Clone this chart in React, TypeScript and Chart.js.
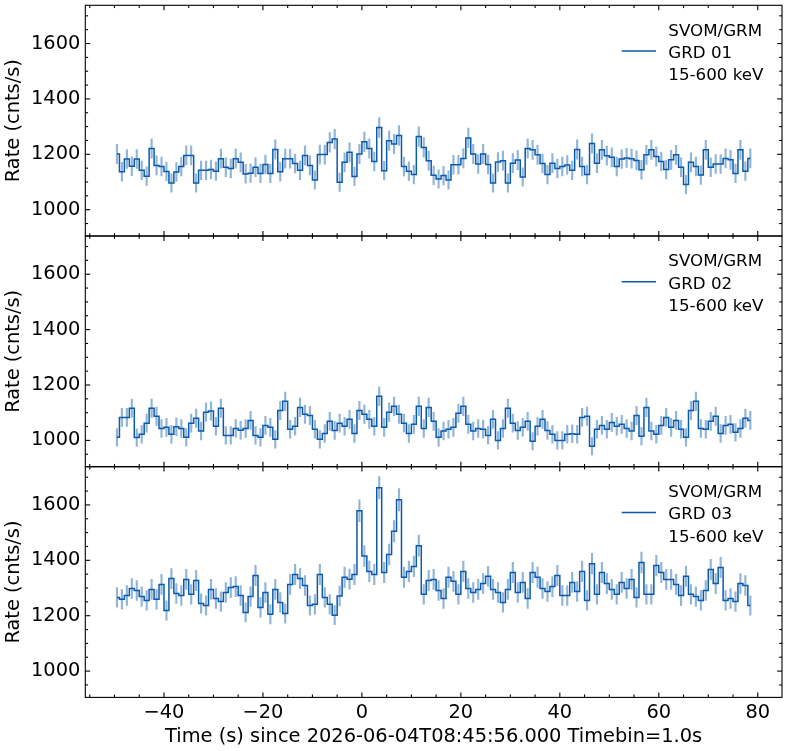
import React, { useEffect, useRef } from 'react';
import { Chart, registerables } from 'chart.js';

Chart.register(...registerables);

// ---------------- data ----------------
const binStart = -49.5; // centre of first 1 s bin (s)
const binWidth = 1.0;

const grd01 = [
  1201, 1137, 1183, 1157, 1183, 1142, 1121, 1221, 1160, 1156, 1138, 1096, 1136, 1156, 1196, 1196, 1096, 1142, 1142, 1145,
  1139, 1184, 1153, 1149, 1184, 1171, 1129, 1132, 1153, 1131, 1163, 1131, 1217, 1137, 1184, 1184, 1167, 1142, 1196, 1160,
  1107, 1199, 1199, 1243,
  1255, 1099, 1171, 1207, 1120, 1201, 1245, 1221, 1174, 1297, 1141, 1249, 1237, 1268, 1156, 1139, 1127, 1264, 1225, 1177,
  1124, 1111, 1123, 1107, 1162, 1162, 1185, 1259, 1201, 1165, 1201, 1163, 1096, 1172, 1177, 1096, 1168, 1179, 1118, 1221,
  1216, 1198, 1167, 1127, 1168,
  1149, 1156, 1161, 1142, 1217, 1156, 1127, 1239, 1168, 1216, 1195, 1189, 1156, 1183, 1187, 1184, 1178, 1144, 1198, 1216,
  1192, 1174, 1145, 1180, 1198, 1153, 1091, 1171, 1156, 1125, 1216, 1153, 1165, 1165, 1185, 1180, 1131, 1216, 1139, 1185,
];

const grd02 = [
  1011, 1083, 1083, 1116, 1010, 1022, 1062, 1116, 1087, 1043, 1047, 1022, 1049, 1043, 1011, 1062, 1080, 1034, 1102, 1106,
  1051, 1116, 1018, 1018, 1043, 1037, 1043, 1072, 1018, 1011, 1054, 1047, 1004, 1108, 1141, 1040, 1051, 1119, 1094, 1090,
  1040, 1004, 1025, 1069,
  1036, 1062, 1051, 1076, 1025, 1108, 1094, 1076, 1051, 1159, 1047, 1102, 1123, 1094, 1062, 1025, 1058, 1123, 1043, 1119,
  1069, 1011, 1034, 1040, 1047, 1098, 1123, 1058, 1034, 1043, 1040, 1018, 1076, 1000, 1043, 1116, 1062, 1036, 1047, 1069,
  997, 1051,
  1076, 1036, 1022, 1000, 1000, 1022, 1024, 1022, 1083, 1087, 979, 1040, 1054, 1040, 1065, 1051, 1058, 1043, 1034, 1090,
  1015, 1119, 1034, 1022, 1054, 1083, 1047, 1072, 1040, 1011, 1108, 1141, 1043, 1040, 1069, 1087, 1025, 1054, 1058, 1029,
  1043, 1080, 1072,
];

const grd03 = [
  1266, 1259, 1273, 1298, 1291, 1269, 1255, 1295, 1259, 1313, 1219, 1334, 1280, 1273, 1331, 1277, 1327, 1244, 1237, 1295,
  1262, 1251, 1284, 1302, 1305, 1273, 1212, 1269, 1345, 1230, 1284, 1205, 1295, 1248, 1208, 1313, 1349, 1334, 1309, 1237,
  1241, 1349, 1266, 1241,
  1202, 1271, 1339, 1332, 1349, 1579, 1416, 1360, 1349, 1662, 1356, 1421, 1505, 1619, 1339, 1360, 1378, 1453, 1277, 1327,
  1331, 1291, 1262, 1339, 1324, 1277, 1360, 1298, 1284, 1295, 1316, 1342, 1295, 1284, 1248, 1295, 1356, 1284, 1320, 1262,
  1356, 1339,
  1298, 1287, 1305, 1345, 1273, 1273, 1320, 1287, 1360, 1255, 1388, 1277, 1356, 1316, 1295, 1277, 1320, 1298, 1331, 1266,
  1392, 1277, 1277, 1381, 1356, 1331, 1331, 1313, 1273, 1342, 1277, 1269, 1255, 1291, 1367, 1316, 1374, 1255, 1262, 1251,
  1316, 1309, 1237,
];

const panelSeries = [grd01, grd02, grd03];
const detectorNames = ['GRD 01', 'GRD 02', 'GRD 03'];
const instrumentName = 'SVOM/GRM';
const energyBand = '15-600 keV';

const xTicks = [-40, -20, 0, 20, 40, 60, 80];
const yTicks = [1000, 1200, 1400, 1600];
const xMinorStep = 5;
const yMinorStep = 50;

const xLabel = 'Time (s) since 2026-06-04T08:45:56.000 Timebin=1.0s';
const yLabel = 'Rate (cnts/s)';

// ---------------- layout / style ----------------
const W = 787;
const H = 751;
const PLOT_LEFT = 85.3;
const PLOT_RIGHT = 782;
const PANEL_TOP = 5.3;
const PANEL_H = 230.7;
const X_MIN = -55.9;
const X_MAX = 84.9;
const Y_MIN = 905;
const Y_MAX = 1738;

const LINE_COLOR = '#0b5aab';
const ERR_COLOR = 'rgba(11, 90, 171, 0.45)';
const FONT = 'DejaVu Sans';
const TICK_FONT_SIZE = 19.4;
const LEGEND_FONT_SIZE = 16.7;

const fmtX = (v: number) => (v < 0 ? '\u2212' + Math.abs(v) : String(v));

function makeFramePlugin(panelIndex: number) {
  return {
    id: 'frameTicksLegend' + panelIndex,
    afterDraw(chart: any) {
      const { ctx, chartArea: a, scales } = chart;
      const x = scales.x;
      const y = scales.y;
      ctx.save();
      ctx.strokeStyle = '#000';
      ctx.lineWidth = 1.1;
      ctx.strokeRect(a.left, a.top, a.right - a.left, a.bottom - a.top);

      const seg = (x0: number, y0: number, x1: number, y1: number) => {
        ctx.beginPath();
        ctx.moveTo(x0, y0);
        ctx.lineTo(x1, y1);
        ctx.stroke();
      };
      const MAJ = 4.9;
      const MIN = 2.8;
      ctx.lineWidth = 1.1;
      // x ticks
      for (let v = Math.ceil(X_MIN / xMinorStep) * xMinorStep; v <= X_MAX; v += xMinorStep) {
        const len = xTicks.includes(v) ? MAJ : MIN;
        const px = x.getPixelForValue(v);
        seg(px, a.bottom, px, a.bottom - len);
        seg(px, a.top, px, a.top + len);
      }
      // y ticks
      for (let v = Math.ceil(Y_MIN / yMinorStep) * yMinorStep; v <= Y_MAX; v += yMinorStep) {
        const len = yTicks.includes(v) ? MAJ : MIN;
        const py = y.getPixelForValue(v);
        seg(a.left, py, a.left + len, py);
        seg(a.right, py, a.right - len, py);
      }

      // legend
      const lx0 = 621.7;
      const lx1 = 656;
      const ly = a.top + 45.7;
      ctx.strokeStyle = LINE_COLOR;
      ctx.lineWidth = 1.5;
      seg(lx0, ly, lx1, ly);
      ctx.fillStyle = '#000';
      ctx.font = `${LEGEND_FONT_SIZE}px "${FONT}"`;
      ctx.textAlign = 'left';
      ctx.textBaseline = 'alphabetic';
      const tx = 668.3;
      ctx.fillText(instrumentName, tx, a.top + 30.4);
      ctx.fillText(detectorNames[panelIndex], tx, a.top + 52.6);
      ctx.fillText(energyBand, tx, a.top + 74.8);
      ctx.restore();
    },
  };
}

function buildConfig(panelIndex: number): any {
  const values = panelSeries[panelIndex];
  const times = values.map((_, k) => binStart + k * binWidth);
  const isBottom = panelIndex === panelSeries.length - 1;
  const top = PANEL_TOP + PANEL_H * panelIndex;
  const bottom = top + PANEL_H;
  const font = { family: FONT, size: TICK_FONT_SIZE };

  const xScale: any = {
    type: 'linear',
    min: X_MIN,
    max: X_MAX,
    offset: false,
    display: isBottom,
    afterBuildTicks: (s: any) => {
      s.ticks = xTicks.map((v) => ({ value: v }));
    },
    afterFit: (s: any) => {
      if (isBottom) s.height = H - bottom;
      s.paddingLeft = 0;
      s.paddingRight = 0;
    },
    grid: { display: false, drawTicks: false, offset: false },
    border: { display: false },
    ticks: {
      font,
      color: '#000',
      padding: 4,
      maxRotation: 0,
      autoSkip: false,
      callback: (v: number) => fmtX(v),
    },
    title: {
      display: true,
      text: xLabel,
      font,
      color: '#000',
      padding: { top: 0, bottom: 2 },
    },
  };

  return {
    data: {
      datasets: [
        {
          type: 'line',
          data: values.map((v, k) => ({ x: times[k], y: v })),
          stepped: 'middle',
          borderColor: LINE_COLOR,
          borderWidth: 1.5,
          pointRadius: 0,
          fill: false,
          order: 1,
        },
        {
          type: 'bar',
          data: values.map((v, k) => ({ x: times[k], y: [v - Math.sqrt(v), v + Math.sqrt(v)] })),
          backgroundColor: ERR_COLOR,
          borderWidth: 0,
          barThickness: 1.5,
          order: 2,
        },
      ],
    },
    options: {
      responsive: false,
      animation: false,
      events: [],
      layout: {
        padding: {
          left: 0,
          right: W - PLOT_RIGHT,
          top,
          bottom: isBottom ? 0 : H - bottom,
        },
      },
      plugins: {
        legend: { display: false },
        tooltip: { enabled: false },
      },
      scales: {
        x: xScale,
        y: {
          type: 'linear',
          min: Y_MIN,
          max: Y_MAX,
          afterBuildTicks: (s: any) => {
            s.ticks = yTicks.map((v) => ({ value: v }));
          },
          afterFit: (s: any) => {
            s.width = PLOT_LEFT;
            s.paddingTop = 0;
            s.paddingBottom = 0;
          },
          grid: { display: false, drawTicks: false },
          border: { display: false },
          ticks: {
            font,
            color: '#000',
            padding: 5,
            autoSkip: false,
            callback: (v: number) => String(v),
          },
          title: {
            display: true,
            text: yLabel,
            font,
            color: '#000',
            padding: { top: 2, bottom: 0 },
          },
        },
      },
    },
    plugins: [makeFramePlugin(panelIndex)],
  };
}

function Panel({ index }: { index: number }) {
  const ref = useRef<HTMLCanvasElement | null>(null);
  useEffect(() => {
    if (!ref.current) return;
    const chart = new Chart(ref.current, buildConfig(index));
    return () => chart.destroy();
  }, [index]);
  return (
    <canvas
      ref={ref}
      width={W}
      height={H}
      style={{ position: 'absolute', left: 0, top: 0, width: W, height: H }}
    />
  );
}

export default function App() {
  Chart.defaults.font.family = FONT;
  return (
    <div
      style={{
        position: 'absolute',
        left: 0,
        top: 0,
        width: W,
        height: H,
        background: '#fff',
        overflow: 'hidden',
      }}
    >
      {panelSeries.map((_, i) => (
        <Panel key={i} index={i} />
      ))}
    </div>
  );
}
